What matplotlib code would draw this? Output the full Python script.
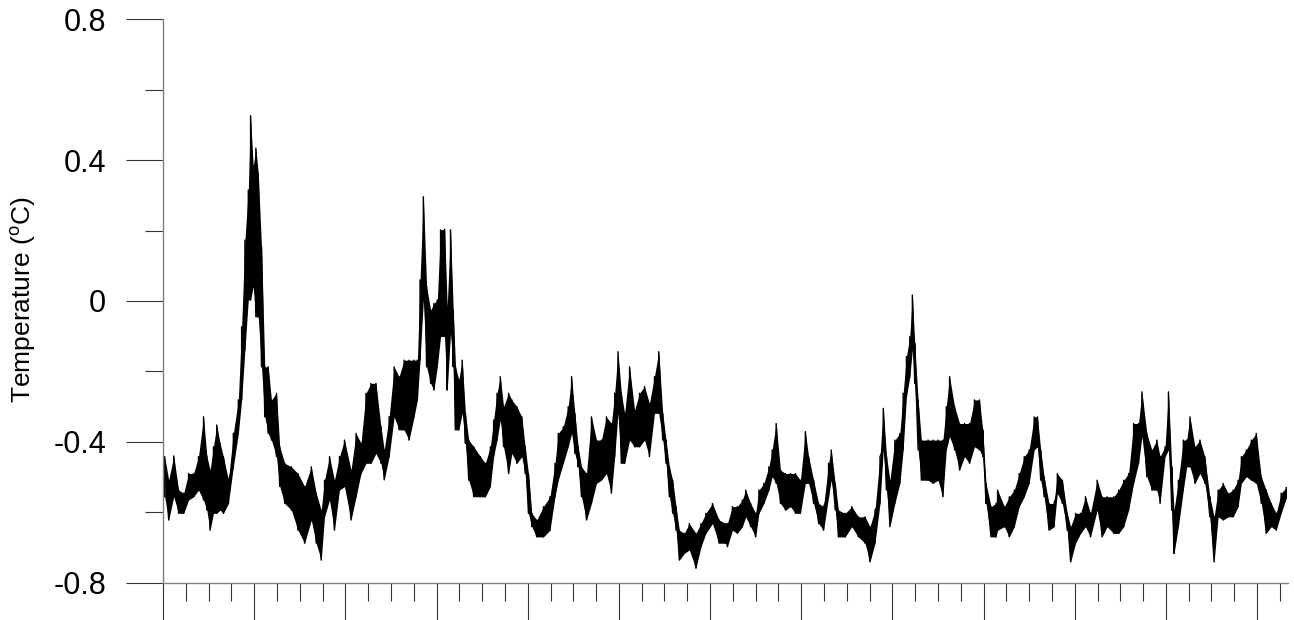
import matplotlib
matplotlib.use("Agg")
import matplotlib.pyplot as plt
from matplotlib.ticker import MultipleLocator, FixedLocator
import numpy as np

plt.rcParams['font.family'] = ['Liberation Sans', 'DejaVu Sans']
plt.rcParams['mathtext.fontset'] = 'custom'
plt.rcParams['mathtext.rm'] = 'Liberation Sans'

# time axis position (one unit = one major tick) and the low / high extent of
# the noisy temperature trace at that position
x_pos = [
    0.018, 0.062, 0.117, 0.171, 0.226, 0.280, 0.335, 0.389, 0.444, 0.480,
    0.516, 0.553, 0.589, 0.625, 0.662, 0.717, 0.771, 0.826, 0.862, 0.898,
    0.935, 0.960, 0.989, 1.018, 1.044, 1.080, 1.116, 1.153, 1.189, 1.244,
    1.280, 1.335, 1.408, 1.480, 1.553, 1.626, 1.680, 1.735, 1.771, 1.826,
    1.880, 1.935, 1.990, 2.062, 2.117, 2.171, 2.226, 2.280, 2.335, 2.390,
    2.426, 2.480, 2.535, 2.589, 2.644, 2.698, 2.753, 2.790, 2.819, 2.855,
    2.891, 2.935, 2.971, 3.008, 3.044, 3.088, 3.117, 3.153, 3.183, 3.208,
    3.244, 3.281, 3.317, 3.353, 3.408, 3.481, 3.535, 3.590, 3.626, 3.663,
    3.699, 3.735, 3.790, 3.826, 3.881, 3.935, 3.972, 4.008, 4.045, 4.099,
    4.172, 4.244, 4.299, 4.335, 4.390, 4.444, 4.481, 4.517, 4.553, 4.590,
    4.645, 4.699, 4.754, 4.808, 4.863, 4.918, 4.954, 4.990, 5.027, 5.063,
    5.117, 5.172, 5.226, 5.281, 5.335, 5.390, 5.437, 5.481, 5.517, 5.554,
    5.590, 5.627, 5.663, 5.717, 5.772, 5.845, 5.900, 5.954, 6.026, 6.099,
    6.172, 6.190, 6.245, 6.299, 6.354, 6.391, 6.445, 6.500, 6.536, 6.590,
    6.645, 6.681, 6.725, 6.772, 6.827, 6.882, 6.936, 6.991, 7.045, 7.081,
    7.136, 7.191, 7.245, 7.300, 7.329, 7.373, 7.408, 7.482, 7.554, 7.627,
    7.700, 7.754, 7.809, 7.864, 7.900, 7.936, 7.973, 8.027, 8.082, 8.118,
    8.154, 8.191, 8.219, 8.245, 8.282, 8.318, 8.391, 8.445, 8.500, 8.554,
    8.591, 8.627, 8.682, 8.737, 8.791, 8.846, 8.900, 8.955, 8.991, 9.027,
    9.082, 9.136, 9.154, 9.228, 9.282, 9.337, 9.391, 9.446, 9.500, 9.555,
    9.591, 9.627, 9.664, 9.718, 9.773, 9.809, 9.864, 9.918, 9.955, 10.009,
    10.064, 10.118, 10.173, 10.246, 10.300, 10.355, 10.428, 10.482, 10.537, 10.591,
    10.646, 10.700, 10.737, 10.791, 10.846, 10.900, 10.936, 10.991, 11.028, 11.064,
    11.089, 11.137, 11.191, 11.228, 11.264, 11.318, 11.373, 11.427, 11.482, 11.529,
    11.573, 11.628, 11.682, 11.737, 11.792, 11.828, 11.882, 11.937, 11.991, 12.046,
    12.100, 12.155, 12.210, 12.264, 12.320,
]
t_low = [
    -0.556, -0.622, -0.556, -0.603, -0.603, -0.565, -0.556, -0.537, -0.565, -0.594,
    -0.651, -0.603, -0.603, -0.594, -0.603, -0.575, -0.471, -0.376, -0.281, -0.139,
    0.003, 0.003, 0.041, -0.045, -0.045, -0.187, -0.329, -0.376, -0.395, -0.442,
    -0.527, -0.575, -0.594, -0.651, -0.688, -0.622, -0.688, -0.736, -0.613, -0.565,
    -0.651, -0.537, -0.527, -0.622, -0.556, -0.490, -0.461, -0.461, -0.433, -0.461,
    -0.508, -0.442, -0.329, -0.366, -0.366, -0.395, -0.329, -0.281, -0.168, 0.003,
    -0.187, -0.234, -0.253, -0.187, -0.101, -0.101, -0.253, -0.092, -0.187, -0.366,
    -0.366, -0.319, -0.404, -0.509, -0.556, -0.556, -0.556, -0.527, -0.442, -0.395,
    -0.338, -0.414, -0.490, -0.433, -0.461, -0.442, -0.490, -0.603, -0.641, -0.670,
    -0.670, -0.651, -0.556, -0.509, -0.461, -0.414, -0.376, -0.433, -0.471, -0.556,
    -0.622, -0.575, -0.518, -0.509, -0.490, -0.546, -0.442, -0.319, -0.461, -0.461,
    -0.395, -0.414, -0.414, -0.395, -0.442, -0.319, -0.319, -0.395, -0.461, -0.556,
    -0.603, -0.651, -0.736, -0.717, -0.707, -0.759, -0.698, -0.660, -0.632, -0.688,
    -0.688, -0.698, -0.651, -0.660, -0.641, -0.613, -0.641, -0.670, -0.603, -0.575,
    -0.537, -0.499, -0.518, -0.575, -0.594, -0.584, -0.603, -0.603, -0.518, -0.518,
    -0.575, -0.632, -0.651, -0.556, -0.509, -0.594, -0.670, -0.670, -0.641, -0.670,
    -0.688, -0.741, -0.688, -0.575, -0.423, -0.537, -0.641, -0.575, -0.518, -0.423,
    -0.272, -0.215, -0.139, -0.234, -0.423, -0.509, -0.509, -0.518, -0.509, -0.556,
    -0.423, -0.385, -0.423, -0.480, -0.442, -0.461, -0.414, -0.423, -0.442, -0.575,
    -0.670, -0.670, -0.651, -0.641, -0.670, -0.641, -0.584, -0.556, -0.518, -0.423,
    -0.414, -0.509, -0.556, -0.651, -0.641, -0.546, -0.575, -0.651, -0.741, -0.688,
    -0.660, -0.641, -0.670, -0.594, -0.670, -0.641, -0.660, -0.660, -0.641, -0.594,
    -0.518, -0.461, -0.385, -0.499, -0.537, -0.537, -0.575, -0.442, -0.423, -0.594,
    -0.717, -0.641, -0.537, -0.471, -0.471, -0.518, -0.490, -0.518, -0.613, -0.741,
    -0.613, -0.622, -0.613, -0.613, -0.584, -0.518, -0.499, -0.509, -0.518, -0.575,
    -0.660, -0.641, -0.651, -0.603, -0.560,
]
t_high = [
    -0.442, -0.509, -0.440, -0.537, -0.546, -0.490, -0.490, -0.442, -0.329, -0.440,
    -0.480, -0.414, -0.352, -0.404, -0.442, -0.509, -0.376, -0.281, -0.073, 0.173,
    0.315, 0.526, 0.382, 0.434, 0.363, 0.154, -0.187, -0.187, -0.281, -0.262,
    -0.414, -0.461, -0.471, -0.490, -0.527, -0.471, -0.546, -0.594, -0.509, -0.442,
    -0.509, -0.442, -0.395, -0.480, -0.376, -0.404, -0.262, -0.234, -0.234, -0.357,
    -0.423, -0.329, -0.187, -0.215, -0.168, -0.168, -0.168, -0.168, 0.060, 0.296,
    0.041, -0.026, -0.007, 0.003, 0.202, 0.204, -0.016, 0.202, -0.026, -0.187,
    -0.224, -0.168, -0.319, -0.395, -0.414, -0.442, -0.461, -0.414, -0.338, -0.262,
    -0.215, -0.300, -0.262, -0.281, -0.300, -0.329, -0.414, -0.490, -0.603, -0.622,
    -0.584, -0.556, -0.461, -0.376, -0.357, -0.300, -0.215, -0.319, -0.414, -0.471,
    -0.490, -0.329, -0.395, -0.395, -0.329, -0.348, -0.262, -0.144, -0.262, -0.319,
    -0.187, -0.310, -0.262, -0.243, -0.291, -0.215, -0.144, -0.319, -0.395, -0.471,
    -0.509, -0.584, -0.651, -0.660, -0.632, -0.660, -0.632, -0.603, -0.575, -0.622,
    -0.632, -0.632, -0.584, -0.584, -0.565, -0.537, -0.575, -0.603, -0.537, -0.518,
    -0.471, -0.423, -0.348, -0.480, -0.490, -0.490, -0.490, -0.509, -0.371, -0.442,
    -0.509, -0.575, -0.584, -0.461, -0.423, -0.518, -0.594, -0.603, -0.584, -0.613,
    -0.613, -0.641, -0.594, -0.442, -0.305, -0.442, -0.509, -0.395, -0.376, -0.262,
    -0.158, -0.101, 0.017, -0.120, -0.281, -0.395, -0.395, -0.395, -0.395, -0.395,
    -0.300, -0.215, -0.300, -0.348, -0.348, -0.348, -0.281, -0.281, -0.366, -0.518,
    -0.584, -0.575, -0.537, -0.584, -0.556, -0.537, -0.490, -0.442, -0.423, -0.329,
    -0.329, -0.423, -0.499, -0.575, -0.575, -0.490, -0.509, -0.603, -0.641, -0.603,
    -0.603, -0.556, -0.603, -0.509, -0.556, -0.556, -0.556, -0.537, -0.509, -0.490,
    -0.348, -0.348, -0.258, -0.376, -0.423, -0.395, -0.442, -0.414, -0.258, -0.471,
    -0.594, -0.509, -0.395, -0.395, -0.329, -0.414, -0.395, -0.442, -0.556, -0.613,
    -0.537, -0.518, -0.546, -0.537, -0.509, -0.442, -0.423, -0.395, -0.376, -0.499,
    -0.537, -0.575, -0.603, -0.546, -0.530,
]

y_ticks = [-0.8, -0.4, 0.0, 0.4, 0.8]
y_tick_labels = ['-0.8', '-0.4', '0', '0.4', '0.8']

# each reading drawn as a vertical stroke from low to high
x = np.repeat(np.array(x_pos), 2)
y = np.column_stack([t_low, t_high]).ravel()

fig = plt.figure(figsize=(12.94, 6.2), dpi=100)
ax = fig.add_axes([0.126, 0.0602, 0.8694, 0.9087])
# dense noisy trace: solid core band plus the jagged strokes on top
ax.fill_between(x_pos, t_low, t_high, color='black', linewidth=0)
ax.plot(x, y, color='black', linewidth=1.0)

ax.set_xlim(0, 12.34)
ax.set_ylim(-0.8, 0.8)

ax.xaxis.set_major_locator(MultipleLocator(1))
ax.xaxis.set_minor_locator(MultipleLocator(0.25))
ax.set_xticklabels([])
ax.yaxis.set_major_locator(FixedLocator(y_ticks))
ax.set_yticklabels(y_tick_labels)
ax.yaxis.set_minor_locator(MultipleLocator(0.2))

ax.tick_params(axis='both', which='major', direction='out', length=27,
               width=0.8, color='#333333', labelsize=22, pad=14)
ax.tick_params(axis='both', which='minor', direction='out', length=13,
               width=0.8, color='#333333')

for side in ['top', 'right']:
    ax.spines[side].set_visible(False)
for side in ['left', 'bottom']:
    ax.spines[side].set_color('#808080')
    ax.spines[side].set_linewidth(1.0)

fig.text(23 / 1294, 1 - 300 / 620, 'Temperature ($^{\\mathrm{o}}$C)',
         fontsize=19, rotation=90, ha='center', va='center')

fig.savefig('out.png', dpi=100)
